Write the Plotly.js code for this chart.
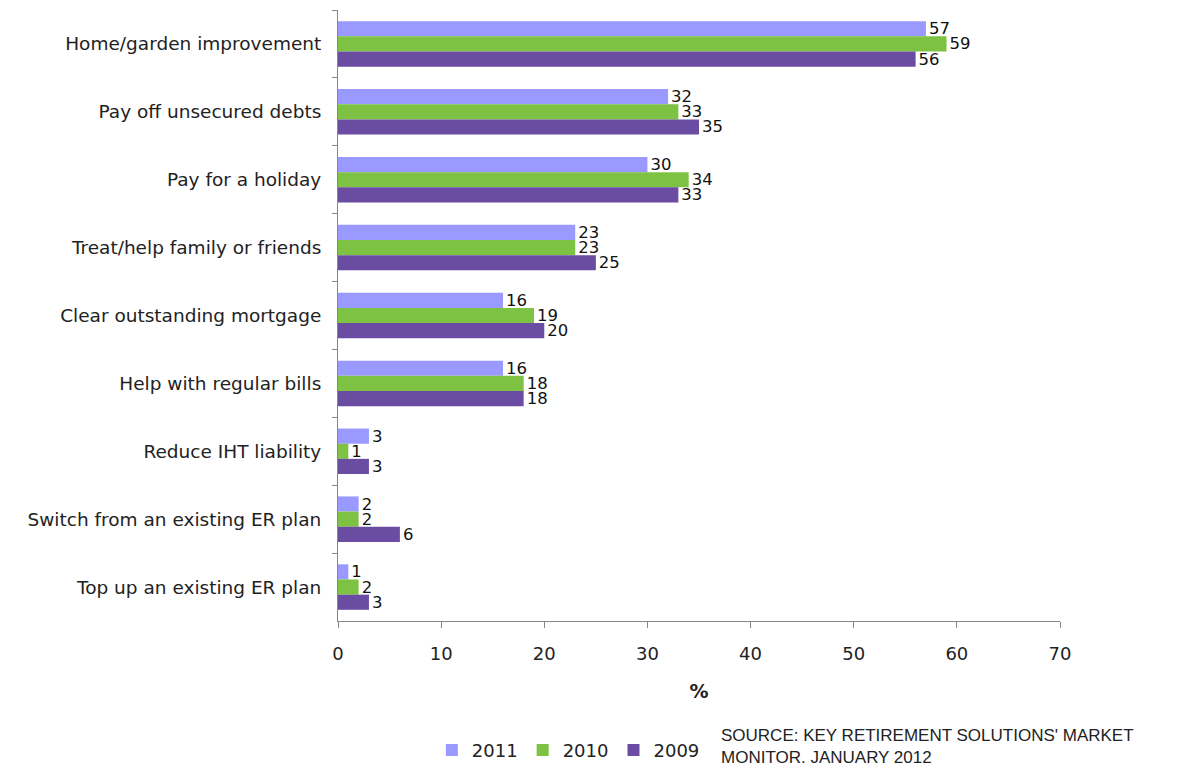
<!DOCTYPE html>
<html>
<head>
<meta charset="utf-8">
<script src="https://cdn.plot.ly/plotly-3.0.1.min.js"></script>
<style>html,body{margin:0;padding:0;background:#fff;}#chart{width:1189px;height:771px;}</style>
</head>
<body>
<div id="chart"></div>
<script>
const categories = [
  "Home/garden improvement",
  "Pay off unsecured debts",
  "Pay for a holiday",
  "Treat/help family or friends",
  "Clear outstanding mortgage",
  "Help with regular bills",
  "Reduce IHT liability",
  "Switch from an existing ER plan",
  "Top up an existing ER plan"
];
const values2011 = [57, 32, 30, 23, 16, 16, 3, 2, 1];
const values2010 = [59, 33, 34, 23, 19, 18, 1, 2, 2];
const values2009 = [56, 35, 33, 25, 20, 18, 3, 6, 3];
const seriesNames = ["2011", "2010", "2009"];
const colors = ["#9999FF", "#7DC242", "#6A4DA3"];
const xTicks = [0, 10, 20, 30, 40, 50, 60, 70];

const font = "DejaVu Sans, Verdana, sans-serif";
const allValues = [values2011, values2010, values2009];
const traces = allValues.map((v, i) => ({
  type: "bar",
  orientation: "h",
  name: seriesNames[i],
  y: categories,
  x: v,
  text: v.map(String),
  textposition: "outside",
  constraintext: "none",
  cliponaxis: false,
  textfont: {family: font, size: 16.5, color: "#111"},
  marker: {color: colors[i]},
  hoverinfo: "x+y"
}));

const layout = {
  width: 1189,
  height: 771,
  margin: {l: 338, r: 129, t: 10, b: 150, autoexpand: false},
  paper_bgcolor: "#fff",
  plot_bgcolor: "#fff",
  barmode: "group",
  bargap: 0.33,
  bargroupgap: 0,
  font: {family: font, size: 17, color: "#222"},
  xaxis: {
    range: [0, 70],
    tickvals: xTicks,
    ticktext: xTicks.map(String),
    showgrid: false,
    zeroline: false,
    showline: true,
    linecolor: "#888",
    ticks: "outside",
    ticklen: 6,
    tickcolor: "#888",
    ticklabelstandoff: 10,
    tickfont: {family: font, size: 18, color: "#222"},
    title: {text: "<b>%</b>", font: {family: font, size: 19, color: "#222"}, standoff: 22}
  },
  yaxis: {
    autorange: "reversed",
    showgrid: false,
    showline: true,
    linecolor: "#888",
    ticks: "outside",
    tickson: "boundaries",
    ticklen: 5,
    tickcolor: "#888",
    ticklabelstandoff: 12,
    tickfont: {family: font, size: 18.5, color: "#222"}
  },
  legend: {
    orientation: "h",
    x: 0.13,
    xanchor: "left",
    yref: "container",
    y: 0.027,
    yanchor: "middle",
    font: {family: font, size: 18, color: "#222"},
    itemwidth: 30,
    tracegroupgap: 0
  },
  annotations: [{
    xref: "paper", yref: "paper",
    x: 0.528, y: -0.205,
    xanchor: "left", yanchor: "middle",
    align: "left",
    showarrow: false,
    text: "SOURCE: KEY RETIREMENT SOLUTIONS' MARKET<br>MONITOR. JANUARY 2012",
    font: {family: "Liberation Sans, Arial, sans-serif", size: 17, color: "#222"}
  }]
};

Plotly.newPlot("chart", traces, layout, {displayModeBar: false, staticPlot: true});
</script>
</body>
</html>
